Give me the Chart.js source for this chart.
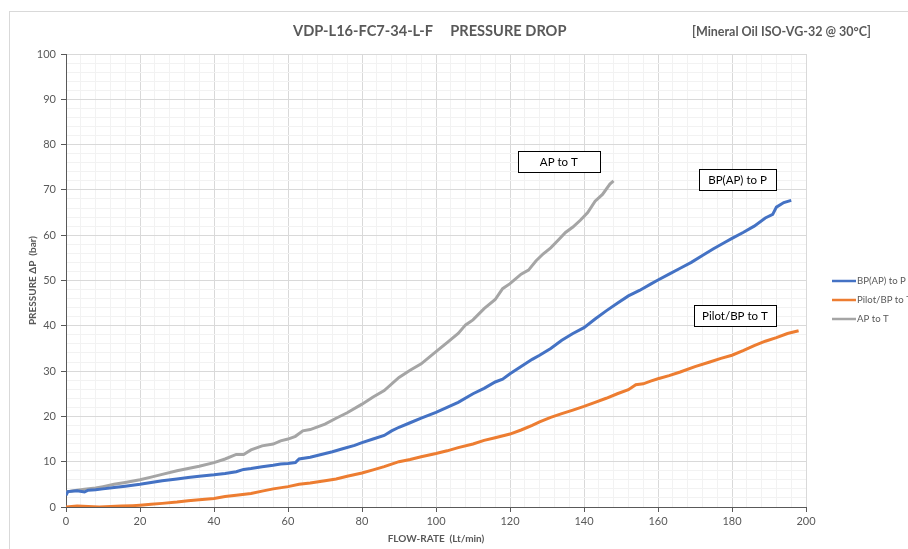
<!DOCTYPE html>
<html>
<head>
<meta charset="utf-8">
<script src="https://cdn.jsdelivr.net/npm/chart.js@4.4.0/dist/chart.umd.min.js"></script>
<style>
  html, body { margin: 0; padding: 0; background: #fff; overflow: hidden; }
  #wrap { position: relative; width: 908px; height: 549px; }
  #frame { position: absolute; left: 9px; top: 11px; width: 910px; height: 550px;
           border: 1px solid #d9d9d9; box-sizing: border-box; }
  .ttl { position: absolute; font-family: Lato, "Open Sans", sans-serif; font-weight: bold;
         color: #595959; white-space: pre; }
  canvas { position: absolute; left: 0; top: 0; }
</style>
</head>
<body>
<div id="wrap">
  <div id="frame"></div>
  <canvas id="chart" width="908" height="549"></canvas>
  <div class="ttl" style="left:293px; top:22px; font-size:14.6px;">VDP-L16-FC7-34-L-F     PRESSURE DROP</div>
  <div class="ttl" style="left:692px; top:24px; font-size:12.5px;">[Mineral Oil ISO-VG-32 @ 30°C]</div>
</div>
<script>
// Flow rate (Lt/min) vs pressure drop (bar)

const bpFlow = [0, 0.5, 3, 5, 6, 8, 10, 13, 16, 20, 23, 26, 30, 33, 36, 40, 43, 46, 48, 50, 53, 56, 58, 60, 62, 63,
  66, 69, 72, 75, 78, 80, 83, 86, 88, 90, 93, 96, 100, 103, 106, 110, 113, 116, 118, 120, 123, 126, 128, 131,
  134, 137, 140, 143, 146, 149, 152, 155, 158, 160, 163, 166, 169, 172, 175, 178, 180, 183, 186, 189, 191, 192, 194, 196];
const bpPressure = [2.6, 3.4, 3.6, 3.3, 3.7, 3.8, 4.0, 4.3, 4.6, 5.0, 5.4, 5.8, 6.2, 6.5, 6.8, 7.1, 7.4, 7.8, 8.3, 8.5, 8.9, 9.2, 9.5, 9.6, 9.8, 10.6,
  11.0, 11.6, 12.2, 12.9, 13.6, 14.2, 15.0, 15.8, 16.8, 17.6, 18.6, 19.6, 20.9, 22.0, 23.1, 25.0, 26.2, 27.6, 28.2, 29.4, 31.0, 32.6, 33.5, 35.0,
  36.8, 38.3, 39.6, 41.5, 43.3, 45.0, 46.6, 47.8, 49.2, 50.1, 51.4, 52.7, 54.0, 55.5, 57.0, 58.4, 59.3, 60.6, 62.0, 63.8, 64.6, 66.2, 67.2, 67.7];

const pilotFlow = [0, 3, 6, 9, 12, 15, 18, 20, 23, 26, 30, 33, 36, 40, 43, 46, 50, 53, 56, 60, 63, 66, 70, 73, 76, 80,
  83, 86, 90, 93, 96, 100, 103, 106, 110, 113, 116, 120, 123, 126, 128, 131, 134, 137, 140, 143, 146, 149, 152,
  154, 156, 158, 160, 163, 166, 170, 174, 177, 180, 183, 186, 189, 192, 195, 198];
const pilotPressure = [0.0, 0.2, 0.1, 0.0, 0.1, 0.2, 0.3, 0.4, 0.6, 0.8, 1.1, 1.4, 1.6, 1.9, 2.3, 2.6, 3.0, 3.5, 4.0, 4.5, 5.0, 5.3, 5.8, 6.2, 6.8, 7.5,
  8.2, 8.9, 10.0, 10.5, 11.1, 11.8, 12.4, 13.1, 13.9, 14.7, 15.3, 16.1, 17.0, 18.0, 18.8, 19.8, 20.6, 21.4, 22.2, 23.1, 24.0, 25.0, 25.9,
  27.0, 27.2, 27.8, 28.3, 29.0, 29.8, 31.0, 32.0, 32.8, 33.5, 34.5, 35.6, 36.6, 37.4, 38.3, 38.9];

const apFlow = [0, 2, 5, 8, 10, 13, 16, 20, 23, 26, 30, 33, 36, 40, 43, 46, 48, 50, 53, 56, 58, 60, 62, 64, 66, 70,
  73, 76, 80, 83, 86, 90, 93, 96, 100, 103, 106, 108, 110, 113, 116, 118, 120, 123, 125, 127, 129, 131, 133,
  135, 137, 139, 141, 143, 145, 147, 148];
const apPressure = [3.3, 3.6, 3.9, 4.2, 4.5, 5.0, 5.4, 6.0, 6.6, 7.2, 8.0, 8.5, 9.0, 9.8, 10.6, 11.6, 11.6, 12.6, 13.5, 13.9, 14.6, 15.0, 15.6, 16.8, 17.1, 18.3,
  19.6, 20.8, 22.7, 24.3, 25.7, 28.6, 30.2, 31.6, 34.3, 36.3, 38.3, 40.2, 41.3, 43.8, 45.8, 48.2, 49.3, 51.4, 52.3, 54.3, 55.9, 57.2, 58.9,
  60.6, 61.8, 63.3, 65.0, 67.5, 69.0, 71.3, 72.0];

const seriesNames = ['BP(AP) to P', 'Pilot/BP to T', 'AP to T'];
const seriesColors = ['#4472C4', '#ED7D31', '#A5A5A5'];

// text boxes placed at data coordinates (flow, pressure)
const noteText = ['AP to T', 'BP(AP) to P', 'Pilot/BP to T'];
const noteFlow = [133.2, 181.5, 180.8];
const notePressure = [76.3, 72.3, 42.3];
const noteWidth = [82, 77, 82];

const FONT = 'Lato, "Open Sans", sans-serif';
const TEXT = '#595959';

function toPoints(xs, ys) {
  return xs.map((x, i) => ({ x: x, y: ys[i] }));
}

const notesPlugin = {
  id: 'notes',
  afterDatasetsDraw(chart) {
    const ctx = chart.ctx;
    const xs = chart.scales.x;
    const ys = chart.scales.y;
    ctx.save();
    ctx.font = '11.5px ' + FONT;
    ctx.textAlign = 'center';
    ctx.textBaseline = 'middle';
    noteText.forEach((t, i) => {
      const cx = xs.getPixelForValue(noteFlow[i]);
      const cy = ys.getPixelForValue(notePressure[i]);
      const w = noteWidth[i];
      const h = 21;
      ctx.fillStyle = '#fff';
      ctx.fillRect(Math.round(cx - w / 2) + 0.5, Math.round(cy - h / 2) + 0.5, w, h);
      ctx.strokeStyle = '#000';
      ctx.lineWidth = 1;
      ctx.strokeRect(Math.round(cx - w / 2) + 0.5, Math.round(cy - h / 2) + 0.5, w, h);
      ctx.fillStyle = '#000';
      ctx.fillText(t, cx, cy + 1);
    });
    ctx.restore();
  },
};

const legendPlugin = {
  id: 'sideLegend',
  afterDraw(chart) {
    const ctx = chart.ctx;
    const left = chart.chartArea.right + 26;
    ctx.save();
    ctx.font = '9.6px ' + FONT;
    ctx.textBaseline = 'middle';
    ctx.textAlign = 'left';
    chart.data.datasets.forEach((ds, i) => {
      const y = 281 + i * 19;
      ctx.strokeStyle = ds.borderColor;
      ctx.lineWidth = 2.5;
      ctx.beginPath();
      ctx.moveTo(left, y);
      ctx.lineTo(left + 24, y);
      ctx.stroke();
      ctx.fillStyle = TEXT;
      ctx.fillText(ds.label, left + 25, y);
    });
    ctx.restore();
  },
};

const chartData = {
  datasets: [
    { label: seriesNames[0], data: toPoints(bpFlow, bpPressure) },
    { label: seriesNames[1], data: toPoints(pilotFlow, pilotPressure) },
    { label: seriesNames[2], data: toPoints(apFlow, apPressure) },
  ].map((ds, i) => ({
    ...ds,
    borderColor: seriesColors[i],
    backgroundColor: seriesColors[i],
    borderWidth: 3,
    pointRadius: 0,
    tension: 0,
    fill: false,
  })),
};

const config = {
  type: 'line',
  data: chartData,
  options: {
    responsive: false,
    animation: false,
    events: [],
    layout: { padding: { left: 20, right: 102, top: 54, bottom: 0 } },
    scales: {
      x: {
        type: 'linear',
        min: 0,
        max: 200,
        afterFit: (scale) => { scale.height = 42; },
        border: { display: true, color: '#595959', width: 1 },
        grid: {
          color: (c) => (c.tick && c.tick.value % 20 === 0 ? '#d9d9d9' : '#f2f2f2'),
          tickColor: (c) => (c.tick && c.tick.value % 20 === 0 ? '#595959' : 'rgba(0,0,0,0)'),
          tickLength: 5,
        },
        ticks: {
          stepSize: 4,
          autoSkip: false,
          maxRotation: 0,
          padding: 3,
          color: TEXT,
          font: { family: FONT, size: 11 },
          callback: (v) => (v % 20 === 0 ? v : ''),
        },
        title: {
          display: true,
          text: 'FLOW-RATE  (Lt/min)',
          color: TEXT,
          font: { family: FONT, size: 10, weight: 'bold' },
          padding: { top: 2, bottom: 4 },
        },
      },
      y: {
        type: 'linear',
        min: 0,
        max: 100,
        afterFit: (scale) => { scale.width = 46; },
        border: { display: true, color: '#595959', width: 1 },
        grid: {
          color: (c) => (c.tick && c.tick.value % 10 === 0 ? '#d9d9d9' : '#f2f2f2'),
          tickColor: (c) => (c.tick && c.tick.value % 10 === 0 ? '#595959' : 'rgba(0,0,0,0)'),
          tickLength: 5,
        },
        ticks: {
          stepSize: 2,
          autoSkip: false,
          padding: 5,
          color: TEXT,
          font: { family: FONT, size: 11 },
          callback: (v) => (v % 10 === 0 ? v : ''),
        },
        title: {
          display: true,
          text: 'PRESSURE ΔP  (bar)',
          color: TEXT,
          font: { family: FONT, size: 10, weight: 'bold' },
          padding: { top: 7, bottom: 4 },
        },
      },
    },
    plugins: {
      legend: { display: false },
      tooltip: { enabled: false },
    },
  },
  plugins: [notesPlugin, legendPlugin],
};

new Chart(document.getElementById('chart'), config);
</script>
</body>
</html>
